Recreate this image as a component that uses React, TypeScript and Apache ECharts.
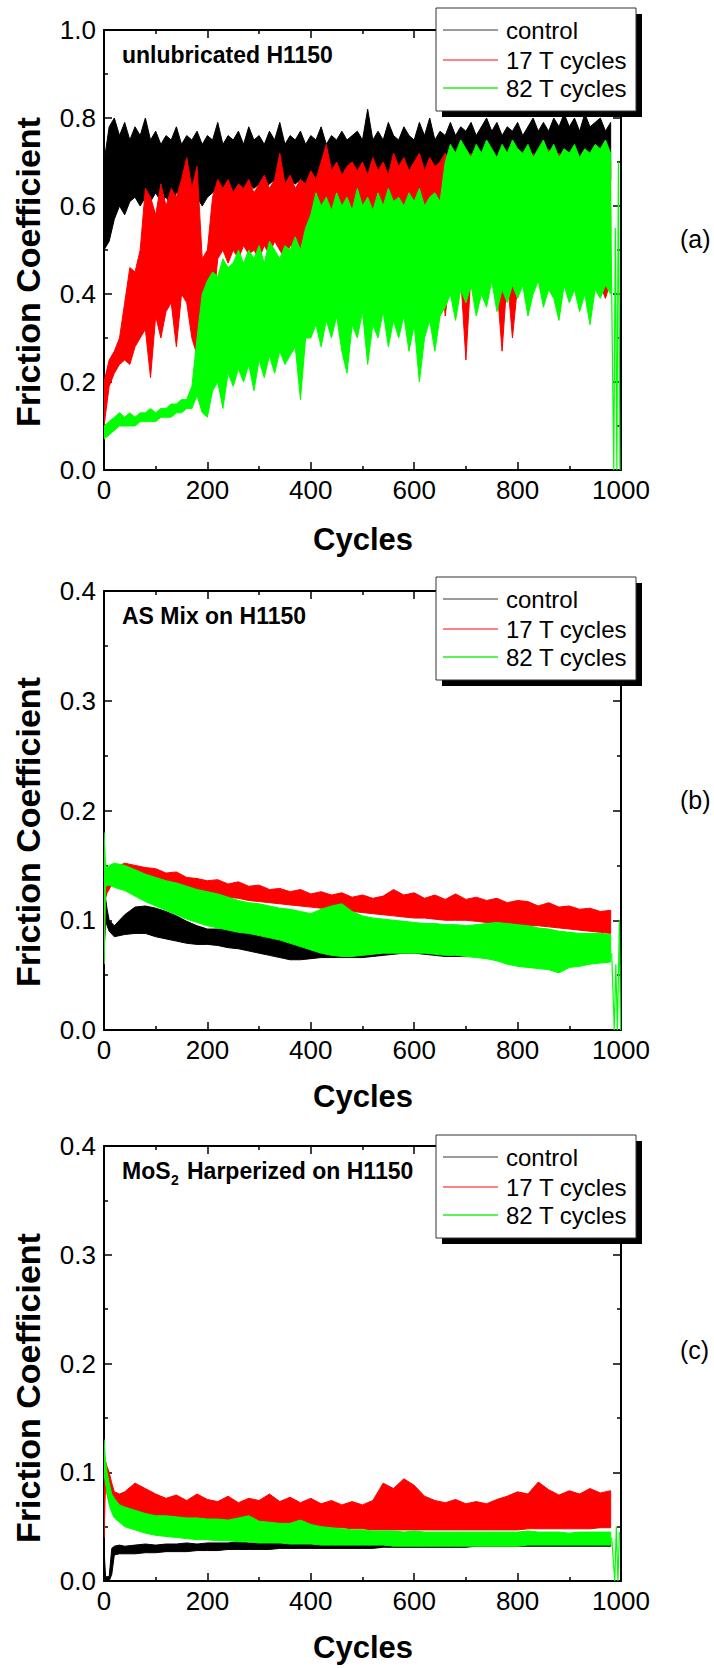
import React, { useEffect, useRef } from "react";
import * as echarts from "echarts";

const FONT = '"Liberation Sans", Arial, Helvetica, sans-serif';

// ---------- Panel (a): unlubricated H1150, sampled every 10 cycles ----------
const X_A = [
  0, 10, 20, 30, 40, 50, 60, 70, 80, 90, 100, 110, 120, 130, 140, 150, 160, 170, 180, 190,
  200, 210, 220, 230, 240, 250, 260, 270, 280, 290, 300, 310, 320, 330, 340, 350, 360, 370, 380, 390,
  400, 410, 420, 430, 440, 450, 460, 470, 480, 490, 500, 510, 520, 530, 540, 550, 560, 570, 580, 590,
  600, 610, 620, 630, 640, 650, 660, 670, 680, 690, 700, 710, 720, 730, 740, 750, 760, 770, 780, 790,
  800, 810, 820, 830, 840, 850, 860, 870, 880, 890, 900, 910, 920, 930, 940, 950, 960, 970, 980,
];
const CTRL_A_HI = [
  0.70, 0.78, 0.80, 0.76, 0.79, 0.75, 0.78, 0.76, 0.80, 0.75,
  0.77, 0.74, 0.76, 0.75, 0.78, 0.74, 0.76, 0.75, 0.77, 0.74,
  0.76, 0.75, 0.79, 0.74, 0.76, 0.75, 0.77, 0.74, 0.78, 0.75,
  0.76, 0.74, 0.77, 0.75, 0.79, 0.74, 0.76, 0.75, 0.77, 0.74,
  0.76, 0.75, 0.78, 0.74, 0.76, 0.75, 0.77, 0.75, 0.76, 0.77,
  0.75, 0.82, 0.75, 0.77, 0.75, 0.79, 0.76, 0.75, 0.78, 0.76,
  0.75, 0.79, 0.76, 0.80, 0.75, 0.77, 0.76, 0.79, 0.76, 0.78,
  0.77, 0.79, 0.76, 0.78, 0.80, 0.77, 0.79, 0.76, 0.78, 0.77,
  0.79, 0.76, 0.78, 0.80, 0.77, 0.79, 0.77, 0.80, 0.78, 0.81,
  0.78, 0.80, 0.77, 0.81, 0.78, 0.79, 0.80, 0.77, 0.79,
];
const CTRL_A_LO = [
  0.50, 0.52, 0.57, 0.60, 0.58, 0.61, 0.62, 0.60, 0.62, 0.61,
  0.63, 0.61, 0.62, 0.60, 0.63, 0.62, 0.61, 0.63, 0.62, 0.60,
  0.62, 0.63, 0.64, 0.63, 0.64, 0.63, 0.65, 0.64, 0.65, 0.64,
  0.65, 0.64, 0.65, 0.66, 0.64, 0.65, 0.66, 0.65, 0.66, 0.65,
  0.66, 0.65, 0.66, 0.66, 0.65, 0.66, 0.66, 0.65, 0.66, 0.66,
  0.66, 0.65, 0.66, 0.67, 0.66, 0.65, 0.66, 0.67, 0.66, 0.66,
  0.67, 0.66, 0.67, 0.66, 0.67, 0.66, 0.67, 0.66, 0.67, 0.66,
  0.67, 0.66, 0.67, 0.67, 0.66, 0.67, 0.66, 0.67, 0.67, 0.66,
  0.67, 0.66, 0.67, 0.67, 0.66, 0.67, 0.66, 0.67, 0.67, 0.66,
  0.67, 0.66, 0.67, 0.67, 0.66, 0.67, 0.66, 0.67, 0.66,
];
const RED_A_HI = [
  0.20, 0.25, 0.27, 0.30, 0.38, 0.46, 0.45, 0.50, 0.64, 0.62,
  0.58, 0.65, 0.60, 0.64, 0.62, 0.66, 0.71, 0.64, 0.69, 0.48,
  0.50, 0.62, 0.66, 0.64, 0.66, 0.63, 0.65, 0.64, 0.66, 0.63,
  0.65, 0.67, 0.64, 0.66, 0.72, 0.65, 0.67, 0.64, 0.66, 0.65,
  0.68, 0.66, 0.70, 0.74, 0.68, 0.70, 0.67, 0.69, 0.70, 0.68,
  0.70, 0.67, 0.71, 0.68, 0.70, 0.67, 0.72, 0.69, 0.71, 0.68,
  0.70, 0.72, 0.68, 0.71, 0.69, 0.70, 0.72, 0.70, 0.69, 0.71,
  0.70, 0.72, 0.69, 0.71, 0.70, 0.72, 0.69, 0.71, 0.70, 0.72,
  0.70, 0.71, 0.69, 0.72, 0.70, 0.71, 0.73, 0.70, 0.72, 0.71,
  0.70, 0.72, 0.71, 0.73, 0.70, 0.72, 0.71, 0.74, 0.70,
];
const RED_A_LO = [
  0.10, 0.19, 0.22, 0.24, 0.25, 0.24, 0.28, 0.30, 0.32, 0.21,
  0.35, 0.30, 0.36, 0.38, 0.28, 0.40, 0.38, 0.30, 0.26, 0.25,
  0.28, 0.36, 0.48, 0.50, 0.47, 0.50, 0.48, 0.51, 0.49, 0.50,
  0.48, 0.51, 0.49, 0.52, 0.50, 0.48, 0.51, 0.50, 0.49, 0.52,
  0.50, 0.52, 0.49, 0.51, 0.50, 0.52, 0.50, 0.51, 0.49, 0.52,
  0.50, 0.51, 0.49, 0.52, 0.50, 0.51, 0.49, 0.52, 0.50, 0.51,
  0.50, 0.45, 0.48, 0.46, 0.44, 0.50, 0.35, 0.45, 0.48, 0.44,
  0.25, 0.45, 0.42, 0.44, 0.40, 0.45, 0.42, 0.27, 0.44, 0.30,
  0.42, 0.44, 0.40, 0.43, 0.45, 0.41, 0.44, 0.42, 0.35, 0.43,
  0.41, 0.44, 0.42, 0.40, 0.45, 0.43, 0.42, 0.39, 0.43,
];
const GREEN_A_HI = [
  0.10, 0.11, 0.12, 0.13, 0.12, 0.13, 0.12, 0.13, 0.13, 0.14,
  0.13, 0.14, 0.14, 0.15, 0.15, 0.16, 0.16, 0.19, 0.30, 0.40,
  0.43, 0.45, 0.44, 0.48, 0.46, 0.47, 0.50, 0.47, 0.50, 0.48,
  0.51, 0.47, 0.52, 0.50, 0.48, 0.51, 0.50, 0.53, 0.50, 0.55,
  0.58, 0.63, 0.60, 0.62, 0.59, 0.63, 0.60, 0.62, 0.59, 0.64,
  0.60, 0.62, 0.59, 0.63, 0.60, 0.64, 0.61, 0.62, 0.60, 0.63,
  0.61, 0.64, 0.60, 0.62, 0.63, 0.61, 0.70, 0.74, 0.72, 0.75,
  0.73, 0.71, 0.74, 0.72, 0.75, 0.73, 0.71, 0.74, 0.72, 0.75,
  0.73, 0.72, 0.74, 0.71, 0.73, 0.75, 0.72, 0.74, 0.71, 0.73,
  0.72, 0.74, 0.71, 0.73, 0.72, 0.74, 0.73, 0.75, 0.72,
];
const GREEN_A_LO = [
  0.07, 0.08, 0.09, 0.10, 0.10, 0.10, 0.10, 0.11, 0.11, 0.11,
  0.11, 0.12, 0.12, 0.12, 0.13, 0.13, 0.14, 0.14, 0.17, 0.13,
  0.12, 0.18, 0.20, 0.14, 0.22, 0.19, 0.23, 0.20, 0.24, 0.18,
  0.25, 0.21, 0.26, 0.22, 0.27, 0.24, 0.26, 0.28, 0.16, 0.30,
  0.30, 0.33, 0.28, 0.34, 0.30, 0.35, 0.27, 0.22, 0.33, 0.30,
  0.36, 0.24, 0.33, 0.30, 0.36, 0.28, 0.34, 0.30, 0.35, 0.27,
  0.33, 0.20, 0.30, 0.34, 0.27, 0.35, 0.37, 0.40, 0.34, 0.41,
  0.38, 0.42, 0.35, 0.40, 0.37, 0.43, 0.36, 0.41, 0.38, 0.42,
  0.39, 0.42, 0.35, 0.40, 0.43, 0.37, 0.41, 0.39, 0.34, 0.42,
  0.38, 0.41, 0.36, 0.40, 0.33, 0.41, 0.39, 0.42, 0.40,
];
const GREEN_A_END = [[980, 0.6], [986, 0.0], [989, 0.55], [992, 0.0], [995, 0.7], [998, 0.0]];

// ---------- Panel (b): AS Mix on H1150 ----------
const X_B = [
  0, 3, 6, 10, 20, 40, 60, 80, 100, 120, 140, 160, 180, 200, 220, 240, 260, 280, 300, 320,
  340, 360, 380, 400, 420, 440, 460, 480, 500, 520, 540, 560, 580, 600, 620, 640, 660, 680, 700, 720,
  740, 760, 780, 800, 820, 840, 860, 880, 900, 920, 940, 960, 980,
];
const CTRL_B_HI = [
  0.14, 0.12, 0.11, 0.10, 0.095, 0.105, 0.112, 0.113, 0.111, 0.108, 0.104, 0.099, 0.095, 0.092, 0.092,
  0.093, 0.094, 0.092, 0.089, 0.087, 0.085, 0.082, 0.078, 0.075, 0.072, 0.071, 0.071, 0.070, 0.071,
  0.072, 0.074, 0.076, 0.076, 0.075, 0.075, 0.074, 0.073, 0.072, 0.071,
];
const CTRL_B_LO = [
  0.07, 0.10, 0.095, 0.09, 0.085, 0.087, 0.088, 0.088, 0.085, 0.083, 0.081, 0.079, 0.078, 0.078, 0.077,
  0.075, 0.074, 0.072, 0.070, 0.068, 0.066, 0.064, 0.064, 0.065, 0.066, 0.066, 0.066, 0.066, 0.066,
  0.067, 0.068, 0.069, 0.070, 0.070, 0.069, 0.068, 0.067, 0.067, 0.067,
];
const RED_B_HI = [
  0.14, 0.135, 0.135, 0.138, 0.148, 0.152, 0.150, 0.148, 0.147, 0.143, 0.144, 0.139, 0.138, 0.136, 0.137,
  0.133, 0.135, 0.131, 0.132, 0.128, 0.129, 0.126, 0.128, 0.124, 0.126, 0.123, 0.125, 0.121, 0.123, 0.120,
  0.122, 0.128, 0.123, 0.125, 0.120, 0.123, 0.119, 0.124, 0.119, 0.121, 0.118, 0.120, 0.116, 0.118, 0.117,
  0.113, 0.116, 0.112, 0.113, 0.110, 0.111, 0.108, 0.109,
];
const RED_B_LO = [
  0.06, 0.12, 0.125, 0.128, 0.138, 0.140, 0.140, 0.137, 0.135, 0.133, 0.131, 0.129, 0.127, 0.125, 0.123,
  0.121, 0.120, 0.118, 0.117, 0.116, 0.115, 0.114, 0.113, 0.112, 0.111, 0.110, 0.109, 0.108, 0.107, 0.106,
  0.105, 0.104, 0.103, 0.102, 0.102, 0.101, 0.100, 0.100, 0.100, 0.099, 0.098, 0.098, 0.097, 0.096, 0.095,
  0.095, 0.094, 0.093, 0.092, 0.091, 0.090, 0.089, 0.088,
];
const GREEN_B_HI = [
  0.18, 0.150, 0.148, 0.150, 0.152, 0.150, 0.146, 0.142, 0.139, 0.136, 0.134, 0.131, 0.128, 0.126, 0.124,
  0.121, 0.118, 0.116, 0.115, 0.113, 0.111, 0.110, 0.108, 0.106, 0.110, 0.113, 0.115, 0.108, 0.104, 0.102,
  0.101, 0.100, 0.099, 0.098, 0.097, 0.097, 0.096, 0.096, 0.095, 0.096, 0.097, 0.098, 0.097, 0.096, 0.095,
  0.093, 0.092, 0.090, 0.089, 0.088, 0.088, 0.088, 0.087,
];
const GREEN_B_LO = [
  0.06, 0.130, 0.132, 0.132, 0.130, 0.127, 0.122, 0.117, 0.113, 0.109, 0.105, 0.101, 0.098, 0.095, 0.093,
  0.091, 0.089, 0.088, 0.086, 0.084, 0.082, 0.079, 0.076, 0.073, 0.070, 0.068, 0.067, 0.067, 0.068, 0.069,
  0.070, 0.070, 0.070, 0.070, 0.070, 0.069, 0.068, 0.068, 0.067, 0.066, 0.065, 0.063, 0.060, 0.058, 0.057,
  0.056, 0.055, 0.052, 0.057, 0.058, 0.060, 0.061, 0.062,
];
const GREEN_B_END = [[982, 0.07], [987, 0.0], [990, 0.06], [993, 0.0], [997, 0.1], [999, 0.0]];

// ---------- Panel (c): MoS2 Harperized on H1150 ----------
const X_C = [
  0, 3, 6, 10, 15, 20, 30, 40, 60, 80, 100, 120, 140, 160, 180, 200, 220, 240, 260, 280,
  300, 320, 340, 360, 380, 400, 420, 440, 460, 480, 500, 520, 540, 560, 580, 600, 620, 640, 660, 680,
  700, 720, 740, 760, 780, 800, 820, 840, 860, 880, 900, 920, 940, 960, 980,
];
const CTRL_C_HI = [
  0.030, 0.004, 0.004, 0.004, 0.030, 0.032, 0.033, 0.032, 0.033, 0.034,
  0.033, 0.034, 0.034, 0.035, 0.034, 0.035, 0.035, 0.035, 0.036, 0.035, 0.035,
  0.035, 0.036, 0.035, 0.036, 0.036, 0.035, 0.036, 0.036, 0.035, 0.036,
  0.036, 0.035, 0.036, 0.036, 0.036, 0.037, 0.036, 0.036, 0.036, 0.036,
  0.037, 0.036, 0.037, 0.037, 0.036, 0.037, 0.037, 0.037, 0.037, 0.037,
  0.037, 0.037, 0.037, 0.037,
];
const CTRL_C_LO = [
  0.0, 0.0, 0.0, 0.0, 0.006, 0.024, 0.025, 0.025, 0.025, 0.026,
  0.026, 0.027, 0.027, 0.027, 0.028, 0.028, 0.028, 0.029, 0.029, 0.029, 0.029,
  0.029, 0.030, 0.030, 0.030, 0.030, 0.030, 0.030, 0.030, 0.030, 0.030,
  0.030, 0.031, 0.031, 0.031, 0.031, 0.031, 0.031, 0.031, 0.031, 0.031,
  0.032, 0.032, 0.032, 0.032, 0.032, 0.032, 0.032, 0.032, 0.032, 0.032,
  0.032, 0.032, 0.032, 0.032,
];
const RED_C_HI = [
  0.100, 0.110, 0.105, 0.100, 0.090, 0.082, 0.080, 0.082, 0.090, 0.085,
  0.080, 0.076, 0.079, 0.074, 0.080, 0.075, 0.073, 0.078, 0.072, 0.076, 0.074,
  0.080, 0.073, 0.077, 0.072, 0.076, 0.071, 0.074, 0.070, 0.073, 0.070,
  0.074, 0.090, 0.085, 0.094, 0.088, 0.078, 0.074, 0.072, 0.075, 0.071,
  0.073, 0.071, 0.075, 0.078, 0.082, 0.080, 0.091, 0.084, 0.079, 0.083,
  0.080, 0.085, 0.081, 0.083,
];
const RED_C_LO = [
  0.040, 0.090, 0.080, 0.072, 0.066, 0.062, 0.060, 0.058, 0.057, 0.056,
  0.056, 0.055, 0.055, 0.054, 0.054, 0.054, 0.053, 0.053, 0.053, 0.052, 0.052,
  0.052, 0.051, 0.051, 0.050, 0.050, 0.050, 0.049, 0.049, 0.048, 0.048,
  0.047, 0.047, 0.047, 0.047, 0.047, 0.047, 0.047, 0.047, 0.047, 0.047,
  0.047, 0.047, 0.047, 0.047, 0.047, 0.048, 0.048, 0.048, 0.048, 0.048,
  0.048, 0.048, 0.049, 0.049,
];
const GREEN_C_HI = [
  0.130, 0.110, 0.100, 0.090, 0.080, 0.076, 0.070, 0.068, 0.065, 0.062,
  0.060, 0.060, 0.059, 0.058, 0.058, 0.057, 0.057, 0.056, 0.058, 0.060, 0.055,
  0.054, 0.053, 0.053, 0.056, 0.052, 0.050, 0.049, 0.048, 0.047, 0.047,
  0.046, 0.046, 0.046, 0.045, 0.046, 0.045, 0.045, 0.045, 0.045, 0.045,
  0.045, 0.045, 0.045, 0.045, 0.045, 0.046, 0.045, 0.045, 0.045, 0.044,
  0.045, 0.045, 0.045, 0.045,
];
const GREEN_C_LO = [
  0.100, 0.090, 0.080, 0.070, 0.063, 0.058, 0.054, 0.050, 0.047, 0.044,
  0.042, 0.041, 0.040, 0.039, 0.038, 0.038, 0.037, 0.037, 0.036, 0.036, 0.035,
  0.035, 0.035, 0.034, 0.034, 0.034, 0.033, 0.033, 0.033, 0.033, 0.033,
  0.033, 0.033, 0.032, 0.032, 0.032, 0.032, 0.032, 0.032, 0.032, 0.032,
  0.032, 0.032, 0.032, 0.032, 0.032, 0.033, 0.033, 0.033, 0.033, 0.033,
  0.033, 0.033, 0.033, 0.033,
];
const GREEN_C_END = [[982, 0.04], [988, 0.0], [991, 0.05], [994, 0.0], [997, 0.045]];

const LEGEND_NAMES = ["control", "17 T cycles", "82 T cycles"];
const LEGEND_COLORS = ["#7a7a7a", "#ff5a5a", "#22ee22"];
const SERIES_COLORS = ["#000000", "#ff0000", "#00ff00"];
const PANEL_TITLES = ["unlubricated H1150", "AS Mix on H1150", "Harperized on H1150"];
const PANEL_TAGS = ["(a)", "(b)", "(c)"];
const Y_MAX = [1.0, 0.4, 0.4];
const Y_INTERVAL = [0.2, 0.1, 0.1];

// layout
const GRIDS = [
  { left: 104, top: 30, width: 517, height: 440 },
  { left: 104, top: 591, width: 517, height: 439 },
  { left: 104, top: 1146, width: 517, height: 435 },
];
const LEGEND_TOPS = [8, 577, 1135];

function band(xs: number[], lo: number[], hi: number[], color: string, gi: number, z: number) {
  const n = Math.min(lo.length, hi.length);
  const xx = xs.slice(0, n);
  return {
    type: "custom",
    xAxisIndex: gi * 2,
    yAxisIndex: gi * 2,
    clip: true,
    z,
    silent: true,
    data: xx.map((x, i) => [x, lo[i], hi[i]]),
    encode: { x: 0, y: [1, 2] },
    renderItem: (params: any, api: any) => {
      if (params.dataIndex !== 0) return null;
      const top = xx.map((x, i) => api.coord([x, hi[i]]));
      const bot = xx.map((x, i) => api.coord([x, lo[i]])).reverse();
      return {
        type: "polygon",
        shape: { points: top.concat(bot) },
        style: { fill: color, stroke: color, lineWidth: 1 },
      };
    },
  };
}

function spikes(data: number[][], color: string, gi: number, z: number) {
  return {
    type: "line",
    xAxisIndex: gi * 2,
    yAxisIndex: gi * 2,
    data,
    symbol: "none",
    clip: true,
    z,
    silent: true,
    lineStyle: { color, width: 1.2 },
  };
}

function axisCommon() {
  return {
    axisLine: { show: true, onZero: false, lineStyle: { color: "#000", width: 2 } },
    axisTick: { show: true, inside: true, length: 8, lineStyle: { color: "#000", width: 1.5 } },
    minorTick: { show: true, splitNumber: 2, length: 4, lineStyle: { color: "#000", width: 1.5 } },
    splitLine: { show: false },
    minorSplitLine: { show: false },
  };
}

function legend(top: number) {
  const els: any[] = [
    { type: "rect", z: 100, shape: { x: 442, y: top + 6, width: 200, height: 103 }, style: { fill: "#000" } },
    {
      type: "rect",
      z: 101,
      shape: { x: 436, y: top, width: 200, height: 103 },
      style: { fill: "#fff", stroke: "#333", lineWidth: 1 },
    },
  ];
  const offs = [22, 52, 80];
  LEGEND_NAMES.forEach((name, i) => {
    els.push({
      type: "line",
      z: 102,
      shape: { x1: 443, y1: top + offs[i], x2: 498, y2: top + offs[i] },
      style: { stroke: LEGEND_COLORS[i], lineWidth: 1.5 },
    });
    els.push({
      type: "text",
      z: 102,
      x: 506,
      y: top + offs[i],
      style: {
        text: name,
        font: `24px ${FONT}`,
        fill: "#000",
        textAlign: "left",
        textVerticalAlign: "middle",
        align: "left",
        verticalAlign: "middle",
      },
    });
  });
  return els;
}

function textEl(text: string, x: number, y: number, font: string, align = "left", rotation = 0) {
  return {
    type: "text",
    z: 110,
    x,
    y,
    rotation,
    style: {
      text,
      font,
      fill: "#000",
      textAlign: align,
      textVerticalAlign: "middle",
      align,
      verticalAlign: "middle",
    },
  };
}

export default function App() {
  const ref = useRef<HTMLDivElement>(null);
  useEffect(() => {
    if (!ref.current) return;
    const chart = echarts.init(ref.current, undefined, { renderer: "svg" });

    const xAxis: any[] = [];
    const yAxis: any[] = [];
    GRIDS.forEach((g, gi) => {
      xAxis.push({
        type: "value",
        gridIndex: gi,
        min: 0,
        max: 1000,
        interval: 200,
        position: "bottom",
        ...axisCommon(),
        axisLabel: {
          show: true,
          color: "#000",
          fontSize: 26,
          fontFamily: FONT,
          margin: 7,
          showMinLabel: true,
          showMaxLabel: true,
          formatter: (v: number) => String(Math.round(v)),
        },
      });
      xAxis.push({
        type: "value",
        gridIndex: gi,
        min: 0,
        max: 1000,
        interval: 200,
        position: "top",
        ...axisCommon(),
        axisLabel: { show: false },
      });
      yAxis.push({
        type: "value",
        gridIndex: gi,
        min: 0,
        max: Y_MAX[gi],
        interval: Y_INTERVAL[gi],
        position: "left",
        ...axisCommon(),
        axisLabel: {
          show: true,
          color: "#000",
          fontSize: 26,
          fontFamily: FONT,
          margin: 8,
          formatter: (v: number) => v.toFixed(1),
        },
      });
      yAxis.push({
        type: "value",
        gridIndex: gi,
        min: 0,
        max: Y_MAX[gi],
        interval: Y_INTERVAL[gi],
        position: "right",
        ...axisCommon(),
        axisLabel: { show: false },
      });
    });

    const series: any[] = [
      band(X_A, CTRL_A_LO, CTRL_A_HI, SERIES_COLORS[0], 0, 2),
      band(X_A, RED_A_LO, RED_A_HI, SERIES_COLORS[1], 0, 3),
      band(X_A, GREEN_A_LO, GREEN_A_HI, SERIES_COLORS[2], 0, 4),
      spikes(GREEN_A_END, SERIES_COLORS[2], 0, 4),
      band(X_B, CTRL_B_LO, CTRL_B_HI, SERIES_COLORS[0], 1, 2),
      band(X_B, RED_B_LO, RED_B_HI, SERIES_COLORS[1], 1, 3),
      band(X_B, GREEN_B_LO, GREEN_B_HI, SERIES_COLORS[2], 1, 4),
      spikes(GREEN_B_END, SERIES_COLORS[2], 1, 4),
      band(X_C, CTRL_C_LO, CTRL_C_HI, SERIES_COLORS[0], 2, 2),
      band(X_C, RED_C_LO, RED_C_HI, SERIES_COLORS[1], 2, 3),
      band(X_C, GREEN_C_LO, GREEN_C_HI, SERIES_COLORS[2], 2, 4),
      spikes(GREEN_C_END, SERIES_COLORS[2], 2, 4),
    ];

    const boldTitle = `bold 23px ${FONT}`;
    const graphic: any[] = [];
    LEGEND_TOPS.forEach((t) => graphic.push(...legend(t)));
    // panel annotations
    graphic.push(textEl(PANEL_TITLES[0], 122, 55, boldTitle));
    graphic.push(textEl(PANEL_TITLES[1], 122, 616, boldTitle));
    graphic.push(textEl("MoS", 122, 1171, boldTitle));
    graphic.push(textEl("2", 171, 1180, `bold 14px ${FONT}`));
    graphic.push(textEl(PANEL_TITLES[2], 187, 1171, boldTitle));
    // tags
    const tagY = [239, 800, 1350];
    PANEL_TAGS.forEach((t, i) => graphic.push(textEl(t, 680, tagY[i], `25px ${FONT}`)));
    // axis titles
    const yTitleY = [272, 832, 1388];
    const xTitleY = [539, 1096, 1647];
    GRIDS.forEach((g, i) => {
      graphic.push(textEl("Friction Coefficient", 28, yTitleY[i], `bold 34px ${FONT}`, "center", Math.PI / 2));
      graphic.push(textEl("Cycles", 363, xTitleY[i], `bold 31px ${FONT}`, "center"));
    });

    chart.setOption({
      animation: false,
      backgroundColor: "#ffffff",
      textStyle: { fontFamily: FONT },
      grid: GRIDS.map((g) => ({ ...g, containLabel: false, outerBoundsMode: "none" })),
      xAxis,
      yAxis,
      series,
      graphic,
    });
    return () => chart.dispose();
  }, []);
  return (
    <div
      ref={ref}
      style={{ position: "absolute", left: 0, top: 0, width: 714, height: 1668, background: "#fff" }}
    />
  );
}
